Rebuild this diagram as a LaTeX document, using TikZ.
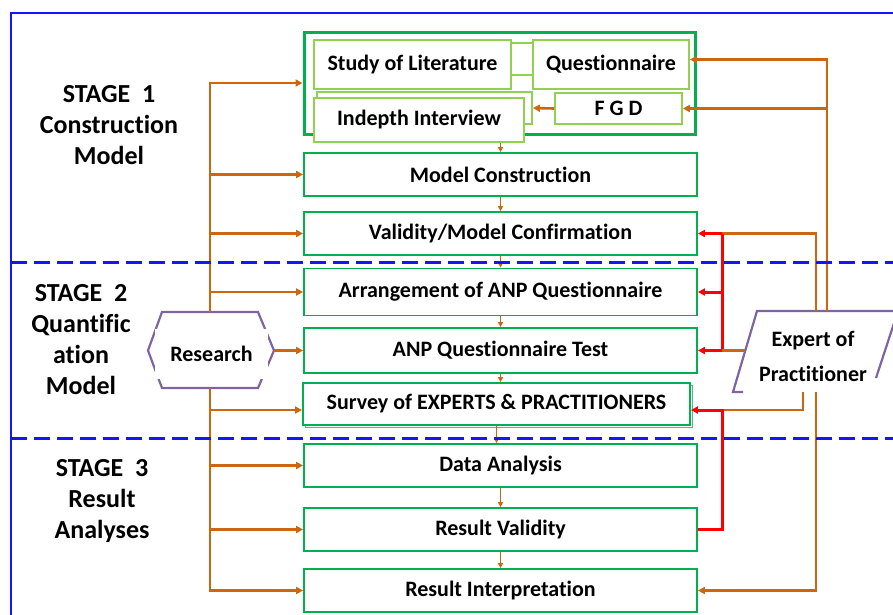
\documentclass[tikz,border=0pt]{standalone}
\usepackage{fontspec}
\setmainfont{Carlito}[Ligatures=CommonOff]
\usepackage{tikz}
\usetikzlibrary{arrows.meta,calc}

\definecolor{boxgreen}{RGB}{0,176,80}
\definecolor{litegreen}{RGB}{146,208,80}
\definecolor{flow}{RGB}{205,102,15}
\definecolor{fbred}{RGB}{255,0,0}
\definecolor{hexpurple}{RGB}{128,100,162}
\definecolor{frameblue}{RGB}{20,20,255}

\tikzset{
  stepbox/.style={draw=boxgreen,line width=1.8pt,fill=white,minimum width=393pt,minimum height=43pt,inner sep=0pt,font=\fontsize{22}{24}\selectfont\bfseries},
  subbox/.style={draw=litegreen,line width=1.8pt,fill=white,inner sep=0pt,font=\fontsize{22}{24}\selectfont\bfseries},
  stagelabel/.style={align=center,font=\fontsize{26}{31}\selectfont\bfseries},
  feed/.style={draw=flow,line width=2.6pt,-{Triangle[length=7pt,width=7pt]}},
  feedline/.style={draw=flow,line width=2.6pt},
  nextstep/.style={draw=flow,line width=1.7pt,-{Triangle[length=5pt,width=5pt]}},
  fb/.style={draw=fbred,line width=3pt,-{Triangle[length=7pt,width=7pt]}},
  fbline/.style={draw=fbred,line width=3pt},
  purpleline/.style={draw=hexpurple,line width=2.2pt},
  stagesep/.style={draw=frameblue,line width=3pt,dash pattern=on 16pt off 7pt},
}

\begin{document}
\begin{tikzpicture}[x=1pt,y=-1pt]
    \useasboundingbox (0,0) rectangle (893,614);
    \clip (0,0) rectangle (893,614);
    \draw[draw=frameblue,line width=2.6pt] (11,640) -- (11,13) -- (900,13);

    \node[stagelabel] (stage1) at (109,125) {STAGE~~1\\Construction\\Model};
    \node[stagelabel] (stage2) at (81,340) {STAGE~~2\\Quantific\\ation\\Model};
    \node[stagelabel] (stage3) at (102,501) {STAGE~~3\\Result\\Analyses};

    \node[draw=boxgreen,line width=3pt,minimum width=391pt,minimum height=102pt] (grp) at (499.5,83) {};
    \draw[draw=litegreen,line width=1.8pt] (511,43) rectangle (533,75);
    \node[subbox,minimum width=197pt,minimum height=49pt] (study) at (412.5,64.5) {Study of Literature};
    \node[subbox,minimum width=156pt,minimum height=49pt] (quest) at (611,64.5) {Questionnaire};
    \node[subbox,minimum width=215pt,minimum height=32pt] (idback) at (424.5,108) {};
    \node[subbox,minimum width=127pt,minimum height=31pt] (fgd) at (618.5,108.5) {F G D};
    \node[subbox,minimum width=210pt,minimum height=44pt] (indepth) at (419,120) {Indepth Interview};

    \node[stepbox] (mc) at (500.5,174.5) {Model Construction};
    \node[stepbox] (valid) at (500.5,233.5) {Validity/Model Confirmation};
    \node[stepbox,minimum height=47pt] (arrange) at (500.5,292) {Arrangement of ANP Questionnaire};
    \node[stepbox,minimum height=45pt] (test) at (500.5,350.5) {ANP Questionnaire Test};
    \node[draw=boxgreen!75,line width=1.2pt,minimum width=387pt,minimum height=42pt] (svyshade) at (499,406.5) {};
    \node[stepbox,minimum width=387pt,minimum height=42pt] (survey) at (496.5,404) {Survey of EXPERTS \& PRACTITIONERS};
    \node[stepbox] (data) at (500.5,465.5) {Data Analysis};
    \node[stepbox] (rvalid) at (500.5,529.5) {Result Validity};
    \node[stepbox] (interp) at (500.5,590.5) {Result Interpretation};

    \coordinate (rsN) at (210,312);
    \coordinate (rsS) at (210,388);
    \coordinate (rsE) at (274,350.5);
    \coordinate (rsW) at (148,350.5);
    \draw[purpleline] (rsW) -- (162,312) -- (258,312) -- (rsE) -- (258,388) -- (162,388) -- cycle;
    \node[fill=white,minimum width=113pt,minimum height=50pt,inner sep=0pt,font=\fontsize{22}{24}\selectfont\bfseries] (research) at (211.5,354) {Research};

    \coordinate (exT1) at (816,311);
    \coordinate (exT2) at (827,311);
    \coordinate (exL) at (745,350.5);
    \coordinate (exB1) at (803,392);
    \coordinate (exB2) at (816,392);
    \draw[purpleline] (743,392) -- (733,392) -- (757,311) -- (898,311) -- (876,378);
    \node[align=center,font=\fontsize{22}{35}\selectfont\bfseries] (expert) at (813,356) {Expert of\\Practitioner};

    \draw[feed] (rsN) |- (grp.west);
    \foreach \b in {mc,valid,arrange}
        \draw[feed] (rsN) |- (\b.west);
    \draw[feed] (rsE) -- (test.west);
    \draw[feed] (rsS) |- ([yshift=-6pt]survey.west);
    \foreach \b in {data,rvalid,interp}
        \draw[feed] (rsS) |- (\b.west);

    \draw[nextstep] (mc.north |- indepth.south) -- (mc.north);
    \foreach \a/\b in {mc/valid,valid/arrange,arrange/test,test/survey,survey/data,data/rvalid,rvalid/interp}
        \draw[nextstep] (\a.south) -- (\a.south |- \b.north);

    \coordinate (redx) at (722,0);
    \draw[feed] (exT2) |- ([yshift=5pt]quest.east);
    \draw[feed] (exT2) |- (fgd.east);
    \draw[feed] (fgd.west) -- (idback.east);
    \draw[feedline] (exT1) |- (valid.east -| redx);
    \draw[fbline] (valid.east -| redx) -- (test.east -| redx);
    \foreach \b in {valid,arrange,test}
        \draw[fb] (\b.east -| redx) -- (\b.east);
    \draw[feedline] (exL) -- (test.east -| redx);
    \coordinate (svyE) at ([yshift=-6pt]survey.east);
    \draw[feedline] (exB1) |- (svyE -| redx);
    \draw[fb] (rvalid.east) -| (svyE -| redx) -- (svyE);
    \draw[feed] (exB2) |- (interp.east);

    \draw[stagesep] (11,262) -- (900,262);
    \draw[stagesep] (11,438) -- (900,438);
\end{tikzpicture}
\end{document}
